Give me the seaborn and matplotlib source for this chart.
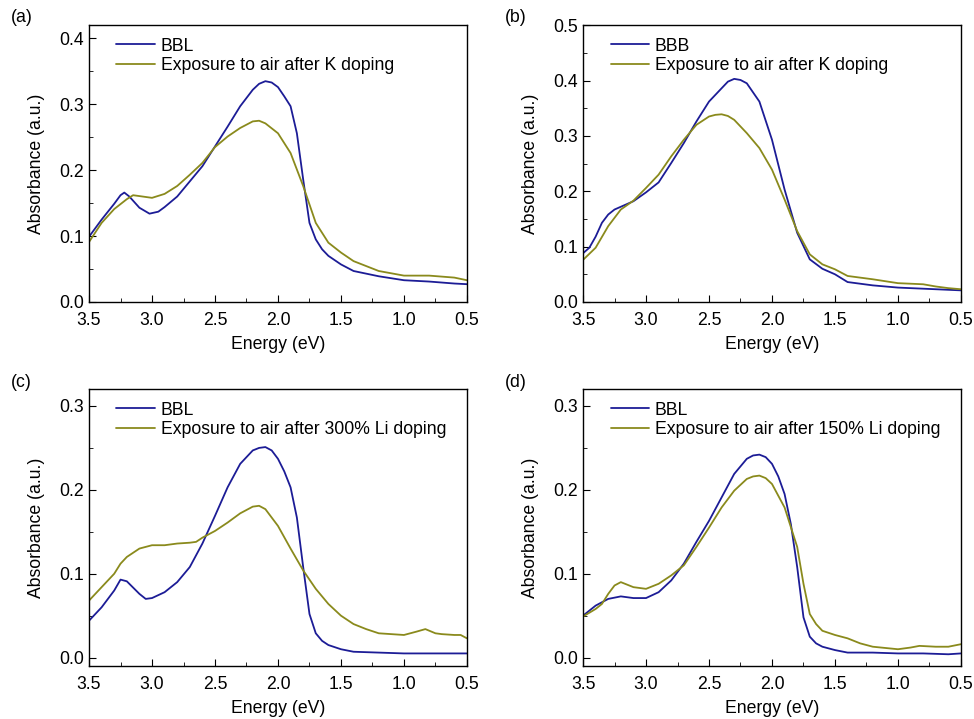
# UV-vis absorbance spectra, 4 panels
import matplotlib.pyplot as plt
import matplotlib.ticker as mticker
import pandas as pd
import seaborn as sns

# ---- data ----
# (a) BBL / K doping
a_blue_x = [3.5, 3.4, 3.3, 3.25, 3.22, 3.18, 3.1, 3.02, 2.95, 2.9, 2.8, 2.7, 2.6, 2.5, 2.4, 2.3, 2.2,
            2.15, 2.1, 2.05, 2.0, 1.95, 1.9, 1.85, 1.8, 1.75, 1.7, 1.65, 1.6, 1.5, 1.4, 1.2, 1.0,
            0.8, 0.6, 0.5]
a_blue_y = [0.099, 0.125, 0.149, 0.162, 0.166, 0.160, 0.143, 0.134, 0.137, 0.144, 0.160, 0.183,
            0.206, 0.236, 0.266, 0.297, 0.322, 0.331, 0.335, 0.333, 0.326, 0.312, 0.297, 0.256,
            0.186, 0.120, 0.095, 0.080, 0.070, 0.057, 0.047, 0.039, 0.033, 0.031, 0.028, 0.027]
a_olive_x = [3.5, 3.4, 3.3, 3.2, 3.15, 3.0, 2.9, 2.8, 2.7, 2.6, 2.5, 2.4, 2.3, 2.2, 2.15, 2.1,
             2.0, 1.9, 1.8, 1.7, 1.6, 1.5, 1.4, 1.2, 1.0, 0.8, 0.6, 0.5]
a_olive_y = [0.091, 0.120, 0.141, 0.156, 0.162, 0.158, 0.164, 0.176, 0.193, 0.211, 0.235, 0.251,
             0.264, 0.274, 0.275, 0.271, 0.256, 0.226, 0.176, 0.120, 0.090, 0.075, 0.062, 0.047,
             0.040, 0.040, 0.037, 0.033]

# (b) BBB / K doping
b_blue_x = [3.5, 3.45, 3.4, 3.35, 3.3, 3.25, 3.2, 3.1, 3.0, 2.9, 2.8, 2.7, 2.6, 2.5, 2.4, 2.35,
            2.3, 2.25, 2.2, 2.1, 2.0, 1.9, 1.8, 1.7, 1.6, 1.5, 1.4, 1.2, 1.0, 0.8, 0.6, 0.5]
b_blue_y = [0.088, 0.098, 0.118, 0.143, 0.158, 0.167, 0.172, 0.182, 0.198, 0.216, 0.251, 0.287,
            0.326, 0.362, 0.386, 0.398, 0.403, 0.401, 0.395, 0.362, 0.293, 0.203, 0.125, 0.077,
            0.060, 0.050, 0.036, 0.030, 0.026, 0.024, 0.022, 0.021]
b_olive_x = [3.5, 3.4, 3.3, 3.2, 3.1, 3.0, 2.9, 2.8, 2.7, 2.6, 2.5, 2.45, 2.4, 2.35, 2.3, 2.2,
             2.1, 2.0, 1.9, 1.8, 1.7, 1.6, 1.5, 1.4, 1.2, 1.0, 0.8, 0.7, 0.6, 0.5]
b_olive_y = [0.076, 0.098, 0.137, 0.167, 0.183, 0.206, 0.230, 0.263, 0.293, 0.320, 0.335, 0.338,
             0.339, 0.336, 0.329, 0.305, 0.278, 0.239, 0.185, 0.128, 0.086, 0.068, 0.059, 0.047,
             0.041, 0.034, 0.032, 0.028, 0.025, 0.023]

# (c) BBL / 300% Li doping
c_blue_x = [3.5, 3.4, 3.3, 3.25, 3.2, 3.1, 3.05, 3.0, 2.9, 2.8, 2.7, 2.6, 2.5, 2.4, 2.3, 2.2,
            2.15, 2.1, 2.05, 2.0, 1.95, 1.9, 1.85, 1.8, 1.75, 1.7, 1.65, 1.6, 1.5, 1.4, 1.2, 1.0, 0.5]
c_blue_y = [0.044, 0.060, 0.080, 0.093, 0.091, 0.076, 0.070, 0.071, 0.078, 0.090, 0.108, 0.136,
            0.169, 0.203, 0.231, 0.247, 0.250, 0.251, 0.247, 0.237, 0.222, 0.203, 0.167, 0.108,
            0.052, 0.029, 0.020, 0.015, 0.010, 0.007, 0.006, 0.005, 0.005]
c_olive_x = [3.5, 3.4, 3.3, 3.25, 3.2, 3.1, 3.0, 2.9, 2.8, 2.7, 2.65, 2.6, 2.5, 2.4, 2.3, 2.2,
             2.15, 2.1, 2.0, 1.9, 1.8, 1.7, 1.6, 1.5, 1.4, 1.3, 1.2, 1.1, 1.0, 0.9, 0.83, 0.75,
             0.7, 0.6, 0.55, 0.5]
c_olive_y = [0.068, 0.084, 0.100, 0.112, 0.120, 0.130, 0.134, 0.134, 0.136, 0.137, 0.138, 0.143,
             0.151, 0.161, 0.172, 0.180, 0.181, 0.177, 0.157, 0.130, 0.104, 0.082, 0.064, 0.050,
             0.040, 0.034, 0.029, 0.028, 0.027, 0.031, 0.034, 0.029, 0.028, 0.027, 0.027, 0.023]

# (d) BBL / 150% Li doping
d_blue_x = [3.5, 3.4, 3.3, 3.2, 3.1, 3.0, 2.9, 2.8, 2.7, 2.6, 2.5, 2.4, 2.3, 2.2, 2.15, 2.1,
            2.05, 2.0, 1.95, 1.9, 1.85, 1.8, 1.75, 1.7, 1.65, 1.6, 1.5, 1.4, 1.2, 1.0, 0.8, 0.6, 0.5]
d_blue_y = [0.050, 0.062, 0.070, 0.073, 0.071, 0.071, 0.078, 0.092, 0.112, 0.138, 0.163, 0.191,
            0.219, 0.237, 0.241, 0.242, 0.239, 0.231, 0.216, 0.195, 0.159, 0.108, 0.048, 0.025,
            0.017, 0.013, 0.009, 0.006, 0.006, 0.005, 0.005, 0.004, 0.005]
d_olive_x = [3.5, 3.4, 3.35, 3.3, 3.25, 3.2, 3.1, 3.0, 2.9, 2.8, 2.7, 2.6, 2.5, 2.4, 2.3, 2.2,
             2.15, 2.1, 2.05, 2.0, 1.9, 1.8, 1.75, 1.7, 1.65, 1.6, 1.5, 1.4, 1.3, 1.2, 1.0, 0.9,
             0.83, 0.7, 0.6, 0.5]
d_olive_y = [0.049, 0.058, 0.064, 0.076, 0.086, 0.090, 0.084, 0.082, 0.088, 0.098, 0.110, 0.132,
             0.155, 0.179, 0.199, 0.213, 0.216, 0.217, 0.214, 0.207, 0.179, 0.132, 0.088, 0.052,
             0.040, 0.032, 0.027, 0.023, 0.017, 0.013, 0.010, 0.012, 0.014, 0.013, 0.013, 0.016]

panels = [
    ('(a)', 'BBL', 'Exposure to air after K doping', a_blue_x, a_blue_y, a_olive_x, a_olive_y, (0, 0.42)),
    ('(b)', 'BBB', 'Exposure to air after K doping', b_blue_x, b_blue_y, b_olive_x, b_olive_y, (0, 0.5)),
    ('(c)', 'BBL', 'Exposure to air after 300% Li doping', c_blue_x, c_blue_y, c_olive_x, c_olive_y, (-0.01, 0.32)),
    ('(d)', 'BBL', 'Exposure to air after 150% Li doping', d_blue_x, d_blue_y, d_olive_x, d_olive_y, (-0.01, 0.32)),
]

sns.set_style('ticks')
plt.rcParams['font.family'] = ['Liberation Sans', 'DejaVu Sans']
plt.rcParams['text.color'] = 'black'
plt.rcParams['axes.labelcolor'] = 'black'
plt.rcParams['xtick.color'] = 'black'
plt.rcParams['ytick.color'] = 'black'
plt.rcParams['axes.edgecolor'] = 'black'

BLUE = '#1c1c96'
OLIVE = '#8a8a1c'
FS = 12.7

fig = plt.figure(figsize=(9.74, 7.19), dpi=100)
positions = [(0.0914, 0.580), (0.5986, 0.580), (0.0914, 0.0737), (0.5986, 0.0737)]

for (lab, s1, s2, bx, by, ox, oy, ylim), (l, b) in zip(panels, positions):
    ax = fig.add_axes([l, b, 0.388, 0.385])
    df = pd.concat([
        pd.DataFrame({'Energy': bx, 'Absorbance': by, 'series': s1}),
        pd.DataFrame({'Energy': ox, 'Absorbance': oy, 'series': s2}),
    ])
    sns.lineplot(data=df, x='Energy', y='Absorbance', hue='series',
                 palette={s1: BLUE, s2: OLIVE}, linewidth=1.3, ax=ax)
    ax.set_xlim(3.5, 0.5)
    ax.set_ylim(*ylim)
    ax.xaxis.set_major_locator(mticker.MultipleLocator(0.5))
    ax.xaxis.set_minor_locator(mticker.MultipleLocator(0.25))
    ax.yaxis.set_major_locator(mticker.MultipleLocator(0.1))
    ax.yaxis.set_minor_locator(mticker.MultipleLocator(0.05))
    ax.xaxis.set_major_formatter(mticker.FormatStrFormatter('%.1f'))
    ax.yaxis.set_major_formatter(mticker.FormatStrFormatter('%.1f'))
    ax.tick_params(which='both', direction='in', labelsize=FS)
    ax.tick_params(which='major', length=5)
    ax.tick_params(which='minor', length=3)
    ax.tick_params(axis='x', pad=7)
    for sp in ax.spines.values():
        sp.set_visible(True)
        sp.set_linewidth(1.0)
    ax.set_xlabel('Energy (eV)', fontsize=FS, labelpad=5)
    ax.set_ylabel('Absorbance (a.u.)', fontsize=FS, labelpad=10)
    ax.legend(loc='upper left', frameon=False, fontsize=FS, handlelength=2.2,
              borderaxespad=0.3, labelspacing=0.15, handletextpad=0.3,
              bbox_to_anchor=(0.04, 1.0))
    fig.text(l - 0.08, b + 0.385 + 0.01, lab, fontsize=FS, va='center', ha='left')

fig.savefig('out.png', dpi=100)
